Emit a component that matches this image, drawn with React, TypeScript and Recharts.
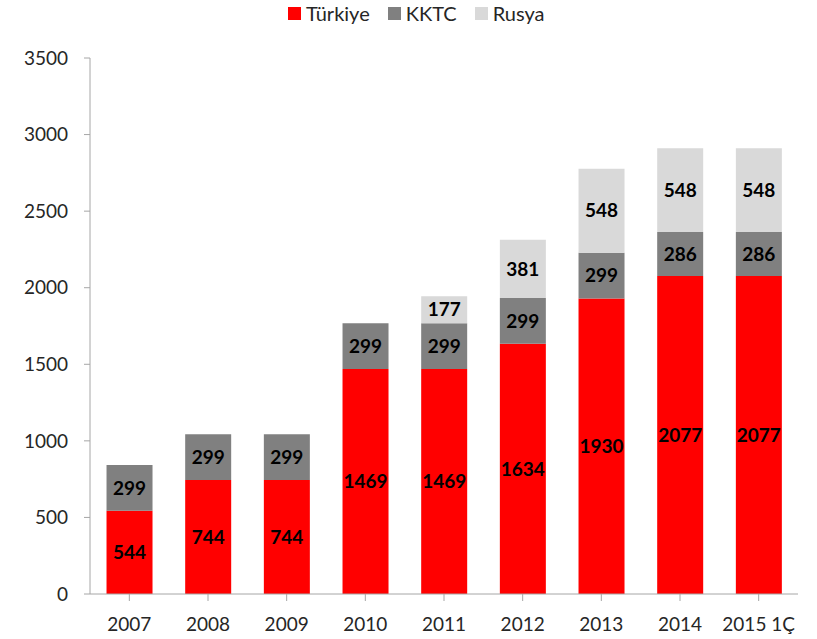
import { BarChart, Bar, XAxis, YAxis, Legend, LabelList } from 'recharts';

const years = ['2007', '2008', '2009', '2010', '2011', '2012', '2013', '2014', '2015 1Ç'];
const turkiye = [544, 744, 744, 1469, 1469, 1634, 1930, 2077, 2077];
const kktc = [299, 299, 299, 299, 299, 299, 299, 286, 286];
const rusya = [0, 0, 0, 0, 177, 381, 548, 548, 548];
const yTicks = [0, 500, 1000, 1500, 2000, 2500, 3000, 3500];

const series = [
  { key: 'turkiye', name: 'Türkiye', color: '#ff0000' },
  { key: 'kktc', name: 'KKTC', color: '#808080' },
  { key: 'rusya', name: 'Rusya', color: '#d9d9d9' },
];

const data = years.map((year, i) => ({
  year,
  turkiye: turkiye[i],
  kktc: kktc[i],
  rusya: rusya[i],
}));

const font = 'Lato, "Open Sans", sans-serif';
const axisColor = '#a6a6a6';
const labelStyle = { fill: '#000', fontSize: 19, fontWeight: 700, fontFamily: font };
const hideZero = (v: any) => (v ? v : '');

const LegendBox = () => (
  <div style={{ display: 'flex', paddingLeft: 288, gap: 18, fontFamily: font, fontSize: 20, color: '#262626', height: 26, alignItems: 'center' }}>
    {series.map((s) => (
      <span key={s.key} style={{ display: 'flex', alignItems: 'center' }}>
        <span style={{ width: 13, height: 13, background: s.color, marginRight: 5, display: 'inline-block' }} />
        {s.name}
      </span>
    ))}
  </div>
);

export default function App() {
  return (
    <div style={{ position: 'absolute', left: 0, top: 0, background: '#fff' }}>
      <BarChart
        width={817}
        height={639}
        data={data}
        margin={{ top: 32, right: 19, left: 0, bottom: 0 }}
        barCategoryGap="21%"
      >
        <Legend
          verticalAlign="top"
          align="left"
          content={<LegendBox />}
          wrapperStyle={{ top: 0, left: 0, width: 817 }}
        />
        <XAxis
          dataKey="year"
          axisLine={{ stroke: axisColor }}
          tickLine={{ stroke: axisColor }}
          tickSize={7}
          tickMargin={17}
          height={45}
          interval={0}
          tick={{ fill: '#262626', fontSize: 19, fontFamily: font }}
        />
        <YAxis
          domain={[0, 3500]}
          ticks={yTicks}
          width={90}
          axisLine={{ stroke: axisColor }}
          tickLine={{ stroke: axisColor }}
          tickSize={6}
          tickMargin={16}
          tick={{ fill: '#262626', fontSize: 19, fontFamily: font }}
        />
        {series.map((s) => (
          <Bar key={s.key} dataKey={s.key} name={s.name} stackId="a" fill={s.color} isAnimationActive={false}>
            <LabelList dataKey={s.key} position="center" style={labelStyle} formatter={hideZero} />
          </Bar>
        ))}
      </BarChart>
    </div>
  );
}
